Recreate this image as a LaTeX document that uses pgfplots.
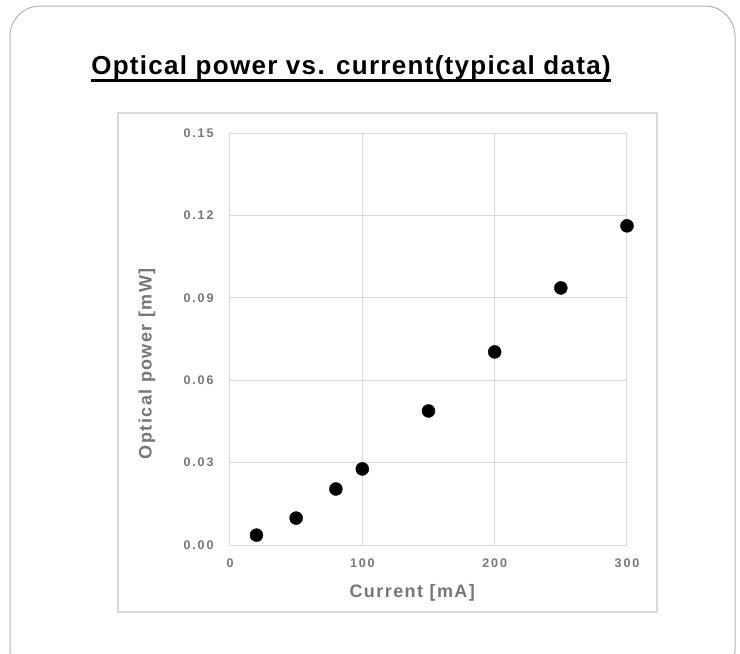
\documentclass[border=0pt]{standalone}
\usepackage{pgfplots}
\pgfplotsset{compat=1.18}
\usepackage{fontspec}
\setmainfont{Liberation Sans}
\definecolor{gridgray}{RGB}{217,217,217}
\definecolor{labgray}{RGB}{118,118,118}
\begin{document}
\begin{tikzpicture}
\path[use as bounding box] (0pt,0pt) rectangle (740pt,-654pt);
\draw[gray!60, line width=1pt, rounded corners=30pt] (10pt,-6pt) rectangle (735pt,-680pt);
\draw[gridgray, line width=1.5pt] (118pt,-113pt) rectangle (657pt,-612pt);
\node[anchor=base, inner sep=0pt, font=\bfseries\fontsize{26}{30}\selectfont\addfontfeatures{LetterSpace=5}] (t) at (351pt,-74pt) {Optical power vs. current(typical data)};
\draw[black, line width=3pt] (t.west |- 0pt,-80pt) -- (t.east |- 0pt,-80pt);
\begin{axis}[
  at={(230pt,-545pt)}, anchor=south west,
  scale only axis, width=397pt, height=412pt,
  xmin=0, xmax=300, ymin=0, ymax=0.15,
  xtick={0,100,200,300}, ytick={0,0.03,0.06,0.09,0.12,0.15},
  yticklabel style={/pgf/number format/fixed, /pgf/number format/fixed zerofill, /pgf/number format/precision=2},
  /pgf/number format/assume math mode=true,
  tick label style={font=\bfseries\fontsize{12.5}{14}\selectfont\addfontfeatures{LetterSpace=15}, text=labgray},
  xlabel={Current [mA]}, ylabel={Optical power [mW]},
  label style={font=\bfseries\fontsize{18}{21}\selectfont\addfontfeatures{LetterSpace=8}, text=labgray},
  xlabel style={at={(axis description cs:0.459,-0.1165)}, anchor=center},
  ylabel style={at={(axis description cs:-0.209,0.44)}, anchor=center},
  grid=major, grid style={gridgray, line width=1pt},
  axis line style={gridgray, line width=1pt},
  axis x line*=bottom, axis y line*=left,
  major tick length=0pt,
  xticklabel style={yshift=-10pt},
  yticklabel style={xshift=-13pt},
]
\addplot[only marks, mark=*, mark size=6.5pt, black] coordinates {
(20,0.0036) (50,0.0098) (80,0.0204) (100,0.0277) (150,0.0488) (200,0.0703) (250,0.0936) (300,0.1162)
};
\end{axis}
\end{tikzpicture}
\end{document}
